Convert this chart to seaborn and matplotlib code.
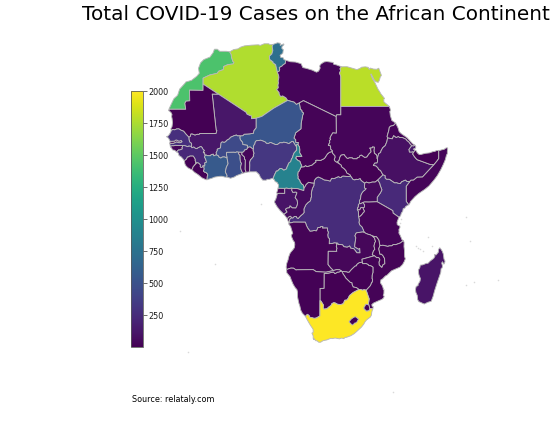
import matplotlib
matplotlib.use("Agg")
import matplotlib.pyplot as plt
from matplotlib.cm import ScalarMappable
from matplotlib.colors import Normalize
import seaborn as sns

# Country outlines in (longitude, latitude)
MOROCCO = [(-8.68,27.4),(-8.69,25.88),(-12.0,25.93),(-11.94,23.37),(-12.87,23.28),(-13.12,22.77),(-12.93,21.33),(-16.85,21.33),(-17.06,21.0),(-17.0,21.42),(-16.2,23.1),(-15.8,23.9),(-14.9,24.7),(-14.4,26.2),(-13.1,27.6),(-12.9,27.9),(-11.5,28.3),(-10.2,29.3),(-9.6,30.0),(-9.8,31.2),(-9.3,32.5),(-8.5,33.3),(-7.0,33.9),(-6.2,35.0),(-5.9,35.8),(-5.2,35.8),(-4.6,35.3),(-3.0,35.3),(-2.17,35.17),(-1.79,34.53),(-1.73,33.92),(-1.39,32.86),(-1.12,32.65),(-1.3,32.26),(-2.6,32.09),(-3.65,31.64),(-3.69,30.9),(-4.86,30.5),(-5.24,30.0),(-7.06,29.58),(-8.67,28.84)]
ALGERIA = [(-8.67,27.66),(-8.67,28.84),(-7.06,29.58),(-5.24,30.0),(-4.86,30.5),(-3.69,30.9),(-3.65,31.64),(-2.6,32.09),(-1.3,32.26),(-1.12,32.65),(-1.39,32.86),(-1.73,33.92),(-1.79,34.53),(-2.17,35.17),(-1.21,35.71),(-0.13,35.89),(0.5,36.3),(1.47,36.61),(3.16,36.78),(4.82,36.87),(5.32,36.72),(6.26,37.11),(7.33,37.12),(7.74,36.89),(8.42,36.95),(8.22,36.43),(8.38,35.48),(8.14,34.66),(7.52,34.1),(7.61,33.34),(8.43,32.75),(8.44,32.51),(9.06,32.1),(9.48,30.31),(9.81,29.42),(9.86,28.96),(9.68,28.14),(9.76,27.69),(9.63,27.14),(9.72,26.51),(9.32,26.09),(9.91,25.37),(9.95,24.94),(10.3,24.38),(10.77,24.56),(11.56,24.1),(12.0,23.47),(8.57,21.57),(5.68,19.6),(4.27,19.16),(3.16,19.06),(3.15,19.69),(2.68,19.86),(2.06,20.14),(1.82,20.61),(-1.55,22.79),(-4.92,24.97),(-8.68,27.4)]
TUNISIA = [(9.48,30.31),(9.06,32.1),(8.44,32.51),(8.43,32.75),(7.61,33.34),(7.52,34.1),(8.14,34.66),(8.38,35.48),(8.22,36.43),(8.42,36.95),(9.51,37.35),(10.21,37.23),(10.18,36.72),(11.03,37.09),(11.1,36.9),(10.6,36.41),(10.59,35.95),(10.94,35.7),(10.81,34.83),(10.15,34.33),(10.34,33.79),(10.86,33.77),(11.11,33.29),(11.49,33.14),(11.43,32.37),(10.94,32.08),(10.64,31.76),(9.95,31.38),(10.06,30.96),(9.97,30.54)]
LIBYA = [(25.0,22.0),(25.0,29.24),(24.7,30.04),(24.96,30.66),(24.8,31.09),(25.16,31.57),(23.93,32.02),(23.24,32.19),(23.13,32.62),(22.9,32.64),(21.54,32.84),(20.85,32.71),(20.08,32.18),(19.82,31.75),(19.95,31.26),(19.57,30.53),(19.07,30.27),(18.02,30.76),(16.61,31.18),(15.71,31.38),(15.29,32.31),(13.92,32.71),(12.66,32.79),(11.49,33.14),(11.43,32.37),(10.94,32.08),(10.64,31.76),(9.95,31.38),(10.06,30.96),(9.97,30.54),(9.48,30.31),(9.81,29.42),(9.86,28.96),(9.68,28.14),(9.76,27.69),(9.63,27.14),(9.72,26.51),(9.32,26.09),(9.91,25.37),(9.95,24.94),(10.3,24.38),(10.77,24.56),(11.56,24.1),(12.0,23.47),(13.58,23.04),(14.14,22.49),(14.85,22.86),(15.86,23.41),(24.0,19.5),(24.0,20.0),(25.0,20.0)]
EGYPT = [(36.87,22.0),(25.0,22.0),(25.0,29.24),(24.7,30.04),(24.96,30.66),(24.8,31.09),(25.16,31.57),(26.5,31.59),(27.46,31.32),(28.45,31.03),(28.91,30.87),(29.68,31.19),(30.09,31.47),(30.98,31.56),(31.69,31.43),(31.96,30.93),(32.19,31.26),(32.99,31.02),(33.77,30.97),(34.27,31.22),(34.92,29.5),(34.64,29.1),(34.43,28.34),(34.15,27.82),(33.58,27.97),(33.14,28.42),(32.42,29.85),(32.32,29.76),(32.73,28.71),(33.35,27.7),(34.1,26.14),(34.47,25.6),(34.8,25.03),(35.69,23.93),(35.49,23.75),(35.53,23.1)]
SUDAN = [(24.57,8.23),(23.81,8.67),(23.46,8.95),(23.39,9.27),(23.56,9.68),(23.55,10.09),(22.98,10.71),(22.86,11.14),(22.88,11.38),(22.51,11.68),(22.5,12.26),(22.29,12.65),(21.94,12.59),(22.04,12.96),(22.3,13.37),(22.18,13.79),(22.51,14.09),(22.3,14.33),(22.57,14.94),(23.02,15.68),(23.89,15.61),(23.84,19.58),(24.0,20.0),(25.0,20.0),(25.0,22.0),(36.87,22.0),(37.19,21.02),(36.97,20.84),(37.11,19.81),(37.48,18.61),(37.86,18.37),(38.41,17.99),(37.9,17.43),(37.17,17.26),(36.85,16.96),(36.75,16.29),(36.32,14.82),(36.43,14.42),(36.27,13.56),(35.86,12.58),(35.26,12.08),(34.83,11.32),(34.73,10.91),(34.26,10.63),(33.96,9.58),(33.96,9.46),(33.82,9.48),(33.84,9.98),(33.72,10.33),(33.21,10.72),(33.09,11.44),(33.21,12.18),(32.74,12.25),(32.67,12.02),(32.07,11.97),(32.31,11.68),(32.4,11.08),(31.85,10.53),(31.35,9.81),(30.84,9.71),(29.99,10.29),(29.62,10.08),(29.52,9.79),(29.0,9.6),(28.97,9.4),(27.97,9.4),(27.83,9.6),(27.11,9.64),(26.75,9.47),(26.48,9.55),(25.96,10.14),(25.79,10.41),(25.07,10.27),(24.79,9.81),(24.54,8.92),(24.19,8.73)]
SOUTH_SUDAN = [(30.83,3.51),(29.95,4.17),(29.72,4.6),(29.16,4.39),(28.7,4.46),(28.43,4.29),(27.98,4.41),(27.37,5.23),(27.21,5.55),(26.47,5.95),(26.21,6.55),(25.8,6.98),(25.12,7.5),(25.11,7.83),(24.57,8.23),(24.19,8.73),(24.54,8.92),(24.79,9.81),(25.07,10.27),(25.79,10.41),(25.96,10.14),(26.48,9.55),(26.75,9.47),(27.11,9.64),(27.83,9.6),(27.97,9.4),(28.97,9.4),(29.0,9.6),(29.52,9.79),(29.62,10.08),(29.99,10.29),(30.84,9.71),(31.35,9.81),(31.85,10.53),(32.4,11.08),(32.31,11.68),(32.07,11.97),(32.67,12.02),(32.74,12.25),(33.21,12.18),(33.09,11.44),(33.21,10.72),(33.72,10.33),(33.84,9.98),(33.82,9.48),(33.96,9.46),(33.96,8.68),(33.83,8.38),(33.29,8.35),(32.95,7.78),(33.57,7.71),(34.07,7.23),(34.25,6.83),(34.71,6.59),(35.3,5.51),(34.62,4.85),(34.01,4.25),(33.39,3.79),(32.69,3.79),(31.88,3.56),(31.25,3.78)]
ERITREA = [(36.43,14.42),(36.32,14.82),(36.75,16.29),(36.85,16.96),(37.17,17.26),(37.9,17.43),(38.41,17.99),(38.99,16.84),(39.27,15.92),(39.81,15.44),(41.18,14.49),(42.59,13.0),(43.08,12.7),(42.78,12.46),(42.35,12.54),(42.01,12.87),(41.6,13.45),(41.16,13.77),(40.9,14.12),(40.03,14.52),(39.34,14.53),(39.1,14.74),(38.51,14.51),(37.91,14.96),(37.59,14.21)]
ETHIOPIA = [(47.79,8.0),(44.96,5.0),(43.66,4.96),(42.77,4.25),(42.13,4.23),(41.86,3.92),(41.17,3.92),(40.77,4.26),(39.86,3.84),(39.56,3.42),(38.92,3.5),(38.67,3.62),(38.44,3.59),(38.12,3.6),(36.86,4.45),(36.16,4.45),(35.82,4.78),(35.82,5.34),(35.3,5.51),(34.71,6.59),(34.25,6.83),(34.07,7.23),(33.57,7.71),(32.95,7.78),(33.29,8.35),(33.83,8.38),(33.97,8.68),(33.96,9.58),(34.26,10.63),(34.73,10.91),(34.83,11.32),(35.26,12.08),(35.86,12.58),(36.27,13.56),(36.43,14.42),(37.59,14.21),(37.91,14.96),(38.51,14.51),(39.1,14.74),(39.34,14.53),(40.03,14.52),(40.9,14.12),(41.16,13.77),(41.6,13.45),(42.01,12.87),(42.35,12.54),(42.0,12.1),(41.66,11.63),(41.74,11.36),(41.76,11.05),(42.31,11.03),(42.55,11.11),(42.78,10.93),(42.56,10.57),(42.93,10.02),(43.3,9.54),(43.68,9.18),(46.95,8.0)]
DJIBOUTI = [(43.08,12.7),(43.32,12.39),(43.29,11.97),(42.72,11.74),(43.15,11.46),(42.78,10.93),(42.55,11.11),(42.31,11.03),(41.76,11.05),(41.74,11.36),(41.66,11.63),(42.0,12.1),(42.35,12.54),(42.78,12.46)]
SOMALILAND = [(48.95,11.41),(48.94,10.98),(48.94,9.97),(48.94,9.45),(48.49,8.84),(47.79,8.0),(46.95,8.0),(43.68,9.18),(43.3,9.54),(42.93,10.02),(42.56,10.57),(42.78,10.93),(43.15,11.46),(43.47,11.28),(43.67,10.86),(44.12,10.45),(44.61,10.44),(45.56,10.7),(46.65,10.82),(47.53,11.13),(48.02,11.19),(48.38,11.38)]
SOMALIA = [(41.59,-1.68),(40.99,-0.86),(40.98,2.78),(41.86,3.92),(42.13,4.23),(42.77,4.25),(43.66,4.96),(44.96,5.0),(47.79,8.0),(48.49,8.84),(48.94,9.45),(48.94,9.97),(48.94,10.98),(48.95,11.41),(49.27,11.43),(49.73,11.58),(50.26,11.68),(50.73,12.02),(51.11,12.02),(51.13,11.75),(51.04,11.17),(51.05,10.64),(50.83,10.28),(50.55,9.2),(50.07,8.08),(49.45,6.8),(48.59,5.34),(47.74,4.22),(46.56,2.86),(45.56,2.05),(44.07,1.05),(43.14,0.29),(42.04,-0.92),(41.81,-1.45)]
KENYA = [(40.99,-0.86),(41.59,-1.68),(40.88,-2.08),(40.64,-2.5),(40.26,-2.57),(40.12,-3.28),(39.8,-3.68),(39.6,-4.35),(39.2,-4.68),(37.77,-3.68),(37.7,-3.1),(34.07,-1.06),(33.9,-0.95),(33.89,0.11),(34.18,0.52),(34.67,1.18),(35.04,1.91),(34.6,3.05),(34.48,3.56),(34.0,4.25),(34.62,4.85),(35.3,5.51),(35.82,5.34),(35.82,4.78),(36.16,4.45),(36.86,4.45),(38.12,3.6),(38.44,3.59),(38.67,3.62),(38.92,3.5),(39.56,3.42),(39.86,3.84),(40.77,4.26),(41.17,3.92),(41.86,3.92),(40.98,2.78)]
UGANDA = [(33.9,-0.95),(31.87,-1.03),(30.77,-1.01),(30.42,-1.13),(29.82,-1.44),(29.58,-1.34),(29.59,-0.59),(29.82,-0.21),(29.88,0.6),(30.09,1.06),(30.47,1.58),(30.85,1.85),(31.17,2.2),(30.77,2.34),(30.83,3.51),(31.25,3.78),(31.88,3.56),(32.69,3.79),(33.39,3.79),(34.0,4.25),(34.48,3.56),(34.6,3.05),(35.04,1.91),(34.67,1.18),(34.18,0.52),(33.89,0.11)]
RWANDA = [(30.42,-1.13),(30.82,-1.7),(30.76,-2.29),(30.47,-2.41),(29.94,-2.35),(29.63,-2.92),(29.02,-2.84),(29.12,-2.29),(29.25,-2.22),(29.29,-1.62),(29.58,-1.34),(29.82,-1.44)]
BURUNDI = [(30.47,-2.41),(30.53,-2.81),(30.74,-3.03),(30.75,-3.36),(30.51,-3.57),(30.12,-4.09),(29.75,-4.45),(29.34,-4.5),(29.28,-3.29),(29.02,-2.84),(29.63,-2.92),(29.94,-2.35)]
TANZANIA = [(33.9,-0.95),(34.07,-1.06),(37.7,-3.1),(37.77,-3.68),(39.2,-4.68),(38.74,-5.91),(38.8,-6.48),(39.44,-6.84),(39.47,-7.1),(39.19,-7.7),(39.25,-8.01),(39.19,-8.49),(39.54,-9.11),(39.95,-10.1),(40.32,-10.32),(39.52,-10.9),(38.43,-11.29),(37.83,-11.27),(37.47,-11.57),(36.78,-11.59),(36.51,-11.72),(35.31,-11.44),(34.56,-11.52),(34.28,-10.16),(33.94,-9.69),(33.74,-9.42),(32.76,-9.23),(32.19,-8.93),(31.56,-8.76),(31.16,-8.59),(30.74,-8.34),(30.2,-7.08),(29.62,-6.52),(29.42,-5.94),(29.52,-5.42),(29.34,-4.5),(29.75,-4.45),(30.12,-4.09),(30.51,-3.57),(30.75,-3.36),(30.74,-3.03),(30.53,-2.81),(30.47,-2.41),(30.76,-2.29),(30.82,-1.7),(30.42,-1.13),(30.77,-1.01),(31.87,-1.03)]
DR_CONGO = [(30.83,3.51),(30.77,2.34),(31.17,2.2),(30.85,1.85),(30.47,1.58),(30.09,1.06),(29.88,0.6),(29.82,-0.21),(29.59,-0.59),(29.58,-1.34),(29.29,-1.62),(29.25,-2.22),(29.12,-2.29),(29.02,-2.84),(29.28,-3.29),(29.34,-4.5),(29.52,-5.42),(29.42,-5.94),(29.62,-6.52),(30.2,-7.08),(30.74,-8.34),(30.35,-8.24),(29.0,-8.41),(28.73,-8.53),(28.45,-9.16),(28.67,-9.61),(28.5,-10.79),(28.37,-11.79),(28.64,-11.97),(29.34,-12.36),(29.62,-12.18),(29.7,-13.26),(28.93,-13.25),(28.52,-12.7),(28.16,-12.27),(27.39,-12.13),(27.16,-11.61),(26.55,-11.92),(25.75,-11.78),(25.42,-11.33),(24.78,-11.24),(24.31,-11.26),(24.26,-10.95),(23.91,-10.93),(23.46,-10.87),(22.84,-11.02),(22.4,-10.99),(22.16,-11.08),(22.21,-9.89),(21.88,-9.52),(21.8,-8.91),(21.95,-8.31),(21.75,-7.92),(21.73,-7.29),(20.51,-7.3),(20.6,-6.94),(20.09,-6.94),(20.04,-7.12),(19.42,-7.16),(19.17,-7.74),(19.02,-7.99),(18.46,-7.85),(18.13,-8.0),(17.47,-8.07),(16.86,-7.22),(16.57,-6.62),(16.33,-5.88),(13.38,-5.86),(13.03,-5.98),(12.44,-6.0),(12.18,-5.79),(12.44,-5.68),(12.47,-5.25),(12.63,-4.99),(13.0,-4.78),(13.26,-4.88),(13.6,-4.5),(14.14,-4.51),(14.21,-4.79),(14.58,-4.97),(15.17,-4.34),(15.75,-3.86),(16.01,-3.54),(15.97,-2.71),(16.41,-1.74),(16.87,-1.23),(17.52,-0.74),(17.64,-0.42),(17.66,-0.06),(17.83,0.29),(17.77,0.86),(17.9,1.74),(18.09,2.37),(18.39,2.9),(18.45,3.5),(18.54,4.2),(18.93,4.71),(19.47,5.03),(20.29,4.69),(20.93,4.32),(21.66,4.22),(22.41,4.03),(22.7,4.63),(22.84,4.71),(23.3,4.61),(24.41,5.11),(24.81,4.9),(25.13,4.93),(25.28,5.17),(25.65,5.26),(26.4,5.15),(27.04,5.13),(27.37,5.23),(27.98,4.41),(28.43,4.29),(28.7,4.46),(29.16,4.39),(29.72,4.6),(29.95,4.17)]
CENTRAL_AFRICAN_REP = [(27.37,5.23),(27.04,5.13),(26.4,5.15),(25.65,5.26),(25.28,5.17),(25.13,4.93),(24.81,4.9),(24.41,5.11),(23.3,4.61),(22.84,4.71),(22.7,4.63),(22.41,4.03),(21.66,4.22),(20.93,4.32),(20.29,4.69),(19.47,5.03),(18.93,4.71),(18.54,4.2),(18.45,3.5),(17.81,3.56),(17.13,3.73),(16.54,3.2),(16.01,2.27),(15.91,2.56),(15.86,3.01),(15.41,3.34),(15.04,3.85),(14.95,4.21),(14.48,4.73),(14.56,5.03),(14.46,5.45),(14.54,6.23),(14.78,6.41),(15.28,7.42),(16.11,7.5),(16.29,7.75),(16.46,7.73),(16.71,7.51),(17.96,7.89),(18.39,8.28),(18.91,8.63),(18.81,8.98),(19.09,9.07),(20.06,9.01),(21.0,9.48),(21.72,10.57),(22.23,10.97),(22.86,11.14),(22.98,10.71),(23.55,10.09),(23.56,9.68),(23.39,9.27),(23.46,8.95),(23.81,8.67),(24.57,8.23),(25.11,7.83),(25.12,7.5),(25.8,6.98),(26.21,6.55),(26.47,5.95),(27.21,5.55)]
CHAD = [(14.85,22.86),(15.86,23.41),(23.84,19.58),(23.89,15.61),(23.02,15.68),(22.57,14.94),(22.3,14.33),(22.51,14.09),(22.18,13.79),(22.3,13.37),(22.04,12.96),(21.94,12.59),(22.29,12.65),(22.5,12.26),(22.51,11.68),(22.88,11.38),(22.86,11.14),(22.23,10.97),(21.72,10.57),(21.0,9.48),(20.06,9.01),(19.09,9.07),(18.81,8.98),(18.91,8.63),(18.39,8.28),(17.96,7.89),(16.71,7.51),(16.46,7.73),(16.29,7.75),(16.11,7.5),(15.28,7.42),(15.44,7.69),(15.12,8.38),(14.98,8.8),(14.54,8.97),(13.95,9.55),(14.17,10.02),(14.63,9.92),(14.91,9.99),(15.47,9.98),(14.92,10.89),(14.96,11.56),(14.89,12.22),(14.5,12.86),(14.6,13.33),(13.95,13.35),(13.96,13.99),(13.54,14.37),(13.97,15.68),(15.25,16.63),(15.3,17.93),(15.69,19.96),(15.9,20.39),(15.49,20.73),(15.47,21.05),(15.1,21.31)]
NIGER = [(2.15,11.94),(2.18,12.63),(1.02,12.85),(0.99,13.34),(0.43,13.99),(0.3,14.44),(0.37,14.93),(1.02,14.97),(1.39,15.32),(2.75,15.41),(3.64,15.57),(3.72,16.18),(4.27,16.85),(4.27,19.16),(5.68,19.6),(8.57,21.57),(12.0,23.47),(13.58,23.04),(14.14,22.49),(14.85,22.86),(15.1,21.31),(15.47,21.05),(15.49,20.73),(15.9,20.39),(15.69,19.96),(15.3,17.93),(15.25,16.63),(13.97,15.68),(13.54,14.37),(13.96,13.99),(13.95,13.35),(14.6,13.33),(14.5,12.86),(14.21,12.8),(14.18,12.48),(14.0,12.46),(13.32,13.56),(13.08,13.6),(12.3,13.04),(11.53,13.33),(10.99,13.39),(10.7,13.25),(10.11,13.28),(9.52,12.85),(9.01,12.83),(7.8,13.34),(7.33,13.1),(6.82,13.12),(6.45,13.49),(5.44,13.87),(4.37,13.75),(4.11,13.53),(3.97,12.96),(3.68,12.55),(3.61,11.66),(2.85,12.24),(2.49,12.23)]
MALI = [(-12.17,14.62),(-11.83,14.8),(-11.67,15.39),(-11.35,15.41),(-10.65,15.13),(-10.09,15.33),(-9.7,15.26),(-9.55,15.49),(-5.54,15.5),(-5.32,16.2),(-5.49,16.33),(-5.97,20.64),(-6.45,25.0),(-4.92,24.97),(-1.55,22.79),(1.82,20.61),(2.06,20.14),(2.68,19.86),(3.15,19.69),(3.16,19.06),(4.27,19.16),(4.27,16.85),(3.72,16.18),(3.64,15.57),(2.75,15.41),(1.39,15.32),(1.02,14.97),(0.37,14.93),(-0.27,14.92),(-0.52,15.12),(-1.07,14.97),(-2.0,14.56),(-2.19,14.25),(-2.97,13.8),(-3.1,13.54),(-3.52,13.34),(-4.01,13.47),(-4.28,13.23),(-4.43,12.01),(-5.22,11.71),(-5.2,11.38),(-5.47,10.95),(-5.4,10.37),(-5.82,10.22),(-6.05,10.1),(-6.21,10.52),(-6.49,10.41),(-6.67,10.43),(-6.85,10.14),(-7.62,10.15),(-7.9,10.3),(-8.03,10.21),(-8.34,10.49),(-8.28,10.79),(-8.41,10.91),(-8.62,10.81),(-8.58,11.14),(-8.38,11.39),(-8.79,11.81),(-8.91,12.09),(-9.13,12.31),(-9.33,12.33),(-9.57,12.19),(-9.89,12.06),(-10.17,11.84),(-10.59,11.92),(-10.87,12.18),(-11.04,12.21),(-11.3,12.08),(-11.46,12.08),(-11.51,12.44),(-11.47,12.75),(-11.55,13.14),(-11.93,13.42),(-12.12,13.99)]
MAURITANIA = [(-12.17,14.62),(-12.83,15.3),(-13.44,16.04),(-14.1,16.3),(-14.58,16.6),(-15.14,16.59),(-15.62,16.37),(-16.12,16.46),(-16.46,16.14),(-16.55,16.67),(-16.27,17.17),(-16.15,18.11),(-16.26,19.1),(-16.38,19.59),(-16.28,20.09),(-16.54,20.57),(-17.06,21.0),(-16.85,21.33),(-12.93,21.33),(-13.12,22.77),(-12.87,23.28),(-11.94,23.37),(-12.0,25.93),(-8.69,25.88),(-8.68,27.4),(-4.92,24.97),(-6.45,25.0),(-5.97,20.64),(-5.49,16.33),(-5.32,16.2),(-5.54,15.5),(-9.55,15.49),(-9.7,15.26),(-10.09,15.33),(-10.65,15.13),(-11.35,15.41),(-11.67,15.39),(-11.83,14.8)]
SENEGAL = [(-16.71,13.59),(-17.13,14.37),(-17.63,14.73),(-17.19,14.92),(-16.7,15.62),(-16.46,16.14),(-16.12,16.46),(-15.62,16.37),(-15.14,16.59),(-14.58,16.6),(-14.1,16.3),(-13.44,16.04),(-12.83,15.3),(-12.17,14.62),(-12.12,13.99),(-11.93,13.42),(-11.55,13.14),(-11.47,12.75),(-11.51,12.44),(-11.66,12.39),(-12.2,12.47),(-12.28,12.35),(-12.5,12.33),(-13.22,12.58),(-13.7,12.59),(-15.55,12.63),(-15.82,12.52),(-16.15,12.55),(-16.68,12.38),(-16.84,13.15),(-15.93,13.13),(-15.69,13.27),(-15.51,13.28),(-15.14,13.51),(-14.71,13.3),(-14.28,13.28),(-13.84,13.51),(-14.05,13.79),(-14.38,13.63),(-14.69,13.63),(-15.08,13.88),(-15.4,13.86),(-15.62,13.62)]
GAMBIA = [(-16.84,13.15),(-16.71,13.59),(-15.62,13.62),(-15.4,13.86),(-15.08,13.88),(-14.69,13.63),(-14.38,13.63),(-14.05,13.79),(-13.84,13.51),(-14.28,13.28),(-14.71,13.3),(-15.14,13.51),(-15.51,13.28),(-15.69,13.27),(-15.93,13.13)]
GUINEA_BISSAU = [(-16.68,12.38),(-16.15,12.55),(-15.82,12.52),(-15.55,12.63),(-13.7,12.59),(-13.72,12.25),(-13.83,12.14),(-13.74,11.81),(-13.9,11.68),(-14.12,11.68),(-14.38,11.51),(-14.69,11.53),(-15.13,11.04),(-15.66,11.46),(-16.09,11.52),(-16.31,11.81),(-16.31,11.96),(-16.61,12.17)]
GUINEA = [(-13.7,12.59),(-13.22,12.58),(-12.5,12.33),(-12.28,12.35),(-12.2,12.47),(-11.66,12.39),(-11.51,12.44),(-11.46,12.08),(-11.3,12.08),(-11.04,12.21),(-10.87,12.18),(-10.59,11.92),(-10.17,11.84),(-9.89,12.06),(-9.57,12.19),(-9.33,12.33),(-9.13,12.31),(-8.91,12.09),(-8.79,11.81),(-8.38,11.39),(-8.58,11.14),(-8.62,10.81),(-8.41,10.91),(-8.28,10.79),(-8.34,10.49),(-8.03,10.21),(-8.23,10.13),(-8.31,9.79),(-8.08,9.38),(-7.83,8.58),(-8.2,8.46),(-8.3,8.32),(-8.22,8.12),(-8.28,7.69),(-8.44,7.69),(-8.72,7.71),(-8.93,7.31),(-9.21,7.31),(-9.4,7.53),(-9.34,7.93),(-9.76,8.34),(-10.02,8.43),(-10.51,8.35),(-10.49,8.72),(-10.65,8.98),(-10.62,9.27),(-10.84,9.69),(-11.12,10.05),(-11.92,10.05),(-12.15,9.86),(-12.43,9.84),(-12.6,9.62),(-12.71,9.34),(-13.25,8.9),(-13.69,9.49),(-14.07,9.89),(-14.33,10.02),(-14.58,10.21),(-14.69,10.66),(-14.84,10.88),(-15.13,11.04),(-14.69,11.53),(-14.38,11.51),(-14.12,11.68),(-13.9,11.68),(-13.74,11.81),(-13.83,12.14),(-13.72,12.25)]
SIERRA_LEONE = [(-13.25,8.9),(-12.71,9.34),(-12.6,9.62),(-12.43,9.84),(-12.15,9.86),(-11.92,10.05),(-11.12,10.05),(-10.84,9.69),(-10.62,9.27),(-10.65,8.98),(-10.49,8.72),(-10.51,8.35),(-10.23,8.41),(-10.7,7.94),(-11.15,7.4),(-11.2,7.11),(-11.44,6.79),(-11.71,6.86),(-12.43,7.26),(-12.95,7.8),(-13.12,8.16)]
LIBERIA = [(-8.44,7.69),(-8.49,7.4),(-8.39,6.91),(-8.6,6.47),(-8.31,6.19),(-7.99,6.13),(-7.57,5.71),(-7.54,5.31),(-7.64,5.19),(-7.71,4.36),(-7.97,4.36),(-9.0,4.83),(-9.91,5.59),(-10.77,6.14),(-11.44,6.79),(-11.2,7.11),(-11.15,7.4),(-10.7,7.94),(-10.23,8.41),(-10.02,8.43),(-9.76,8.34),(-9.34,7.93),(-9.4,7.53),(-9.21,7.31),(-8.93,7.31),(-8.72,7.71)]
IVORY_COAST = [(-7.71,4.36),(-7.64,5.19),(-7.54,5.31),(-7.57,5.71),(-7.99,6.13),(-8.31,6.19),(-8.6,6.47),(-8.39,6.91),(-8.49,7.4),(-8.44,7.69),(-8.28,7.69),(-8.22,8.12),(-8.3,8.32),(-8.2,8.46),(-7.83,8.58),(-8.08,9.38),(-8.31,9.79),(-8.23,10.13),(-8.03,10.21),(-7.9,10.3),(-7.62,10.15),(-6.85,10.14),(-6.67,10.43),(-6.49,10.41),(-6.21,10.52),(-6.05,10.1),(-5.82,10.22),(-5.4,10.37),(-4.95,10.15),(-4.78,9.82),(-4.33,9.61),(-3.98,9.86),(-3.51,9.9),(-2.83,9.64),(-2.56,8.22),(-2.98,7.38),(-3.24,6.25),(-2.81,5.39),(-2.86,5.0),(-3.31,4.98),(-4.01,5.18),(-4.65,5.17),(-5.83,4.99),(-6.53,4.71)]
GHANA = [(1.06,5.93),(-0.51,5.34),(-1.06,5.0),(-1.96,4.71),(-2.86,5.0),(-2.81,5.39),(-3.24,6.25),(-2.98,7.38),(-2.56,8.22),(-2.83,9.64),(-2.96,10.4),(-2.94,10.96),(-1.2,11.01),(-0.76,10.94),(-0.44,11.1),(0.02,11.02),(-0.05,10.71),(0.37,10.19),(0.37,9.47),(0.46,8.68),(0.71,8.31),(0.49,7.41),(0.57,6.91),(0.84,6.28)]
TOGO = [(0.9,11.0),(0.77,10.47),(1.08,10.18),(1.43,9.83),(1.46,9.33),(1.66,9.13),(1.62,6.83),(1.86,6.14),(1.06,5.93),(0.84,6.28),(0.57,6.91),(0.49,7.41),(0.71,8.31),(0.46,8.68),(0.37,9.47),(0.37,10.19),(-0.05,10.71),(0.02,11.02)]
BENIN = [(2.69,6.26),(1.87,6.14),(1.62,6.83),(1.66,9.13),(1.46,9.33),(1.43,9.83),(1.08,10.18),(0.77,10.47),(0.9,11.0),(1.24,11.11),(1.45,11.55),(1.94,11.64),(2.15,11.94),(2.49,12.23),(2.85,12.24),(3.61,11.66),(3.57,11.33),(3.8,10.73),(3.6,10.33),(3.71,10.06),(3.22,9.44),(2.91,9.14),(2.72,8.51),(2.75,7.87)]
BURKINA_FASO = [(-2.83,9.64),(-3.51,9.9),(-3.98,9.86),(-4.33,9.61),(-4.78,9.82),(-4.95,10.15),(-5.4,10.37),(-5.47,10.95),(-5.2,11.38),(-5.22,11.71),(-4.43,12.01),(-4.28,13.23),(-4.01,13.47),(-3.52,13.34),(-3.1,13.54),(-2.97,13.8),(-2.19,14.25),(-2.0,14.56),(-1.07,14.97),(-0.52,15.12),(-0.27,14.92),(0.37,14.93),(0.3,14.44),(0.43,13.99),(0.99,13.34),(1.02,12.85),(2.18,12.63),(2.15,11.94),(1.94,11.64),(1.45,11.55),(1.24,11.11),(0.9,11.0),(0.02,11.02),(-0.44,11.1),(-0.76,10.94),(-1.2,11.01),(-2.94,10.96),(-2.96,10.4)]
NIGERIA = [(2.69,6.26),(2.75,7.87),(2.72,8.51),(2.91,9.14),(3.22,9.44),(3.71,10.06),(3.6,10.33),(3.8,10.73),(3.57,11.33),(3.61,11.66),(3.68,12.55),(3.97,12.96),(4.11,13.53),(4.37,13.75),(5.44,13.87),(6.45,13.49),(6.82,13.12),(7.33,13.1),(7.8,13.34),(9.01,12.83),(9.52,12.85),(10.11,13.28),(10.7,13.25),(10.99,13.39),(11.53,13.33),(12.3,13.04),(13.08,13.6),(13.32,13.56),(14.0,12.46),(14.18,12.48),(14.21,11.5),(13.57,10.8),(13.31,10.16),(13.17,9.64),(12.96,9.42),(12.75,8.72),(12.22,8.31),(12.06,7.8),(11.84,7.4),(11.75,6.98),(11.06,6.64),(10.5,7.06),(10.12,7.04),(9.52,6.45),(9.23,6.44),(8.76,5.48),(8.5,4.77),(7.46,4.41),(7.08,4.46),(6.7,4.24),(5.9,4.26),(5.36,4.89),(5.03,5.61),(4.33,6.27),(3.57,6.26)]
CAMEROON = [(14.5,12.86),(14.89,12.22),(14.96,11.56),(14.92,10.89),(15.47,9.98),(14.91,9.99),(14.63,9.92),(14.17,10.02),(13.95,9.55),(14.54,8.97),(14.98,8.8),(15.12,8.38),(15.44,7.69),(15.28,7.42),(14.78,6.41),(14.54,6.23),(14.46,5.45),(14.56,5.03),(14.48,4.73),(14.95,4.21),(15.04,3.85),(15.41,3.34),(15.86,3.01),(15.91,2.56),(16.01,2.27),(15.94,1.73),(15.15,1.96),(14.34,2.23),(13.08,2.27),(12.95,2.32),(12.36,2.19),(11.75,2.33),(11.28,2.26),(9.65,2.28),(9.8,3.07),(9.4,3.73),(8.95,3.9),(8.74,4.35),(8.49,4.5),(8.5,4.77),(8.76,5.48),(9.23,6.44),(9.52,6.45),(10.12,7.04),(10.5,7.06),(11.06,6.64),(11.75,6.98),(11.84,7.4),(12.06,7.8),(12.22,8.31),(12.75,8.72),(12.96,9.42),(13.17,9.64),(13.31,10.16),(13.57,10.8),(14.21,11.5),(14.18,12.48),(14.21,12.8)]
EQUATORIAL_GUINEA = [(9.65,2.28),(11.28,2.26),(11.29,1.06),(9.83,1.07),(9.49,1.01),(9.31,1.16),(9.59,2.05)]
GABON = [(11.28,2.26),(11.75,2.33),(12.36,2.19),(12.95,2.32),(13.08,2.27),(13.0,1.83),(13.28,1.31),(14.03,1.4),(14.28,1.2),(13.84,0.04),(14.32,-0.56),(14.43,-1.33),(14.3,-1.9),(13.99,-2.47),(13.11,-2.43),(12.58,-1.95),(12.48,-2.39),(11.82,-2.51),(11.48,-2.77),(11.86,-3.43),(11.09,-3.98),(10.07,-2.97),(9.41,-2.14),(8.8,-1.11),(8.83,-0.78),(9.05,-0.46),(9.29,0.27),(9.49,1.01),(9.83,1.07),(11.29,1.06)]
CONGO = [(12.99,-4.78),(12.62,-4.44),(12.32,-4.61),(11.91,-5.04),(11.09,-3.98),(11.86,-3.43),(11.48,-2.77),(11.82,-2.51),(12.48,-2.39),(12.58,-1.95),(13.11,-2.43),(13.99,-2.47),(14.3,-1.9),(14.43,-1.33),(14.32,-0.56),(13.84,0.04),(14.28,1.2),(14.03,1.4),(13.28,1.31),(13.0,1.83),(13.08,2.27),(14.34,2.23),(15.15,1.96),(15.94,1.73),(16.01,2.27),(16.54,3.2),(17.13,3.73),(17.81,3.56),(18.45,3.5),(18.39,2.9),(18.09,2.37),(17.9,1.74),(17.77,0.86),(17.83,0.29),(17.66,-0.06),(17.64,-0.42),(17.52,-0.74),(16.87,-1.23),(16.41,-1.74),(15.97,-2.71),(16.01,-3.54),(15.75,-3.86),(15.17,-4.34),(14.58,-4.97),(14.21,-4.79),(14.14,-4.51),(13.6,-4.5),(13.26,-4.88)]
ANGOLA = [(16.33,-5.88),(16.57,-6.62),(16.86,-7.22),(17.47,-8.07),(18.13,-8.0),(18.46,-7.85),(19.02,-7.99),(19.17,-7.74),(19.42,-7.16),(20.04,-7.12),(20.09,-6.94),(20.6,-6.94),(20.51,-7.3),(21.73,-7.29),(21.75,-7.92),(21.95,-8.31),(21.8,-8.91),(21.88,-9.52),(22.21,-9.89),(22.16,-11.08),(22.4,-10.99),(22.84,-11.02),(23.46,-10.87),(23.91,-10.93),(24.02,-11.24),(23.9,-11.72),(24.08,-12.19),(23.93,-12.57),(24.02,-12.91),(21.93,-12.9),(21.89,-16.08),(22.56,-16.9),(23.21,-17.52),(21.38,-17.93),(18.96,-17.79),(18.26,-17.31),(14.21,-17.35),(14.06,-17.42),(13.46,-16.97),(12.81,-16.94),(12.22,-17.11),(11.73,-17.3),(11.64,-16.67),(11.78,-15.79),(12.12,-14.88),(12.18,-14.45),(12.5,-13.55),(12.74,-13.14),(13.31,-12.48),(13.63,-12.04),(13.74,-11.3),(13.69,-10.73),(13.39,-10.37),(13.12,-9.77),(12.88,-9.17),(12.93,-8.96),(13.24,-8.56),(12.93,-7.6),(12.73,-6.93),(12.23,-6.29),(12.32,-6.1),(13.03,-5.98),(13.38,-5.86)]
CABINDA = [(12.44,-5.68),(12.18,-5.79),(11.91,-5.04),(12.32,-4.61),(12.62,-4.44),(12.99,-4.78),(12.63,-4.99),(12.47,-5.25)]
ZAMBIA = [(30.74,-8.34),(31.16,-8.59),(31.56,-8.76),(32.19,-8.93),(32.76,-9.23),(33.23,-9.68),(33.49,-10.53),(33.32,-10.8),(33.11,-11.61),(33.31,-12.44),(32.99,-12.78),(32.69,-13.71),(33.21,-13.97),(30.18,-14.8),(30.27,-15.51),(29.52,-15.64),(28.95,-16.04),(28.83,-16.39),(28.47,-16.47),(27.6,-17.29),(27.04,-17.94),(26.71,-17.96),(26.38,-17.85),(25.26,-17.74),(25.08,-17.66),(25.08,-17.58),(24.68,-17.35),(24.03,-17.3),(23.21,-17.52),(22.56,-16.9),(21.89,-16.08),(21.93,-12.9),(24.02,-12.91),(23.93,-12.57),(24.08,-12.19),(23.9,-11.72),(24.02,-11.24),(23.91,-10.93),(24.26,-10.95),(24.31,-11.26),(24.78,-11.24),(25.42,-11.33),(25.75,-11.78),(26.55,-11.92),(27.16,-11.61),(27.39,-12.13),(28.16,-12.27),(28.52,-12.7),(28.93,-13.25),(29.7,-13.26),(29.62,-12.18),(29.34,-12.36),(28.64,-11.97),(28.37,-11.79),(28.5,-10.79),(28.67,-9.61),(28.45,-9.16),(28.73,-8.53),(29.0,-8.41),(30.35,-8.24)]
MALAWI = [(32.76,-9.23),(33.74,-9.42),(33.94,-9.69),(34.28,-10.16),(34.56,-11.52),(34.28,-12.28),(34.56,-13.58),(34.91,-13.57),(35.27,-13.89),(35.69,-14.61),(35.77,-15.9),(35.34,-16.11),(35.03,-16.8),(34.38,-16.18),(34.31,-15.48),(34.52,-15.01),(34.46,-14.61),(34.06,-14.36),(33.79,-14.45),(33.21,-13.97),(32.69,-13.71),(32.99,-12.78),(33.31,-12.44),(33.11,-11.61),(33.32,-10.8),(33.49,-10.53),(33.23,-9.68)]
MOZAMBIQUE = [(34.56,-11.52),(35.31,-11.44),(36.51,-11.72),(36.78,-11.59),(37.47,-11.57),(37.83,-11.27),(38.43,-11.29),(39.52,-10.9),(40.32,-10.32),(40.48,-10.77),(40.44,-11.76),(40.56,-12.64),(40.6,-14.2),(40.78,-14.69),(40.48,-15.41),(40.09,-16.1),(39.45,-16.72),(38.54,-17.1),(37.41,-17.59),(36.28,-18.66),(35.9,-18.84),(35.2,-19.55),(34.79,-19.78),(34.7,-20.5),(35.18,-21.25),(35.37,-21.84),(35.39,-22.14),(35.56,-22.09),(35.53,-23.07),(35.37,-23.53),(35.61,-23.71),(35.46,-24.12),(35.04,-24.48),(34.22,-24.82),(33.01,-25.36),(32.57,-25.73),(32.66,-26.15),(32.92,-26.22),(32.83,-26.74),(32.07,-26.73),(31.99,-26.29),(31.84,-25.84),(31.75,-25.48),(31.93,-24.37),(31.67,-23.66),(31.19,-22.25),(32.24,-21.12),(32.51,-20.4),(32.66,-20.3),(32.77,-19.72),(32.61,-19.42),(32.65,-18.67),(32.85,-17.98),(32.85,-16.71),(32.33,-16.39),(31.85,-16.32),(31.64,-16.07),(31.17,-15.86),(30.34,-15.88),(30.27,-15.51),(30.18,-14.8),(33.21,-13.97),(33.79,-14.45),(34.06,-14.36),(34.46,-14.61),(34.52,-15.01),(34.31,-15.48),(34.38,-16.18),(35.03,-16.8),(35.34,-16.11),(35.77,-15.9),(35.69,-14.61),(35.27,-13.89),(34.91,-13.57),(34.56,-13.58),(34.28,-12.28)]
ZIMBABWE = [(31.19,-22.25),(30.66,-22.15),(30.32,-22.27),(29.84,-22.1),(29.43,-22.09),(28.79,-21.64),(28.02,-21.49),(27.73,-20.85),(27.72,-20.5),(27.3,-20.39),(26.16,-19.29),(25.85,-18.71),(25.65,-18.54),(25.26,-17.74),(26.38,-17.85),(26.71,-17.96),(27.04,-17.94),(27.6,-17.29),(28.47,-16.47),(28.83,-16.39),(28.95,-16.04),(29.52,-15.64),(30.27,-15.51),(30.34,-15.88),(31.17,-15.86),(31.64,-16.07),(31.85,-16.32),(32.33,-16.39),(32.85,-16.71),(32.85,-17.98),(32.65,-18.67),(32.61,-19.42),(32.77,-19.72),(32.66,-20.3),(32.51,-20.4),(32.24,-21.12)]
BOTSWANA = [(29.43,-22.09),(28.02,-22.83),(27.12,-23.57),(26.79,-24.24),(26.49,-24.62),(25.94,-24.7),(25.77,-25.17),(25.66,-25.49),(25.03,-25.72),(24.21,-25.67),(23.73,-25.39),(23.31,-25.27),(22.82,-25.5),(22.58,-25.98),(22.11,-26.28),(21.61,-26.73),(20.89,-26.83),(20.67,-26.48),(20.76,-25.87),(20.17,-24.92),(19.9,-24.77),(19.9,-21.85),(20.88,-21.81),(20.91,-18.25),(21.66,-18.22),(23.2,-17.87),(23.58,-18.28),(24.22,-17.89),(24.52,-17.89),(25.08,-17.66),(25.26,-17.74),(25.65,-18.54),(25.85,-18.71),(26.16,-19.29),(27.3,-20.39),(27.72,-20.5),(27.73,-20.85),(28.02,-21.49),(28.79,-21.64)]
NAMIBIA = [(19.9,-24.77),(19.89,-28.46),(19.0,-28.97),(18.46,-29.05),(17.84,-28.86),(17.39,-28.78),(17.22,-28.36),(16.82,-28.08),(16.34,-28.58),(15.6,-27.82),(15.21,-27.09),(14.99,-26.12),(14.74,-25.39),(14.41,-23.85),(14.39,-22.66),(14.26,-22.11),(13.87,-21.7),(13.35,-20.87),(12.83,-19.67),(12.61,-19.05),(11.79,-18.07),(11.73,-17.3),(12.22,-17.11),(12.81,-16.94),(13.46,-16.97),(14.06,-17.42),(14.21,-17.35),(18.26,-17.31),(18.96,-17.79),(21.38,-17.93),(23.21,-17.52),(24.03,-17.3),(24.68,-17.35),(25.08,-17.58),(25.08,-17.66),(24.52,-17.89),(24.22,-17.89),(23.58,-18.28),(23.2,-17.87),(21.66,-18.22),(20.91,-18.25),(20.88,-21.81),(19.9,-21.85)]
SOUTH_AFRICA = [(16.34,-28.58),(16.82,-28.08),(17.22,-28.36),(17.39,-28.78),(17.84,-28.86),(18.46,-29.05),(19.0,-28.97),(19.89,-28.46),(19.9,-24.77),(20.17,-24.92),(20.76,-25.87),(20.67,-26.48),(20.89,-26.83),(21.61,-26.73),(22.11,-26.28),(22.58,-25.98),(22.82,-25.5),(23.31,-25.27),(23.73,-25.39),(24.21,-25.67),(25.03,-25.72),(25.66,-25.49),(25.77,-25.17),(25.94,-24.7),(26.49,-24.62),(26.79,-24.24),(27.12,-23.57),(28.02,-22.83),(29.43,-22.09),(29.84,-22.1),(30.32,-22.27),(30.66,-22.15),(31.19,-22.25),(31.67,-23.66),(31.93,-24.37),(31.75,-25.48),(31.84,-25.84),(31.33,-25.66),(31.04,-25.73),(30.95,-26.02),(30.68,-26.4),(30.69,-26.74),(31.28,-27.29),(31.87,-27.18),(32.07,-26.73),(32.83,-26.74),(32.58,-27.47),(32.46,-28.3),(32.2,-28.75),(31.52,-29.26),(31.33,-29.4),(30.9,-29.91),(30.62,-30.42),(30.06,-31.14),(28.93,-32.17),(28.22,-32.77),(27.46,-33.23),(26.42,-33.61),(25.91,-33.67),(25.78,-33.94),(25.17,-33.8),(24.68,-33.99),(23.59,-33.79),(22.99,-33.92),(22.57,-33.86),(21.54,-34.26),(20.69,-34.42),(20.07,-34.8),(19.62,-34.82),(19.19,-34.46),(18.86,-34.44),(18.42,-33.9),(18.38,-34.14),(18.24,-33.87),(18.25,-33.28),(17.93,-32.61),(18.25,-32.43),(18.22,-31.66),(17.57,-30.73),(17.06,-29.88)]
LESOTHO = [(28.98,-28.96),(29.33,-29.26),(29.02,-29.74),(28.85,-30.07),(28.29,-30.23),(28.11,-30.55),(27.75,-30.65),(27.0,-29.88),(27.53,-29.24),(28.07,-28.85),(28.54,-28.65)]
ESWATINI = [(32.07,-26.73),(31.87,-27.18),(31.28,-27.29),(30.69,-26.74),(30.68,-26.4),(30.95,-26.02),(31.04,-25.73),(31.33,-25.66),(31.84,-25.84),(31.99,-26.29)]
MADAGASCAR = [(49.54,-12.47),(49.81,-12.9),(50.06,-13.56),(50.22,-14.76),(50.48,-15.23),(50.38,-15.71),(50.2,-16.0),(49.86,-15.41),(49.67,-15.71),(49.86,-16.45),(49.77,-16.88),(49.5,-17.11),(49.44,-17.95),(48.55,-20.5),(47.93,-22.39),(47.55,-23.78),(47.1,-24.94),(46.28,-25.18),(45.41,-25.6),(44.83,-25.35),(44.04,-25.0),(43.76,-24.46),(43.7,-23.57),(43.35,-22.78),(43.25,-22.06),(43.43,-21.34),(43.89,-21.16),(43.9,-20.83),(44.37,-20.07),(44.46,-19.44),(44.23,-18.96),(44.04,-18.33),(43.96,-17.41),(44.31,-16.85),(44.45,-16.22),(44.94,-16.18),(45.5,-15.97),(45.87,-15.79),(46.31,-15.78),(46.88,-15.21),(47.71,-14.59),(48.01,-14.09),(47.87,-13.66),(48.29,-13.78),(48.85,-13.09),(48.86,-12.49),(49.19,-12.04)]

# Total cases per country, estimated from the map colours
country_outlines = [MOROCCO, ALGERIA, TUNISIA, LIBYA, EGYPT, SUDAN, SOUTH_SUDAN, ERITREA, ETHIOPIA, DJIBOUTI, SOMALILAND, SOMALIA, KENYA, UGANDA, RWANDA, BURUNDI, TANZANIA, DR_CONGO, CENTRAL_AFRICAN_REP, CHAD, NIGER, MALI, MAURITANIA, SENEGAL, GAMBIA, GUINEA_BISSAU, GUINEA, SIERRA_LEONE, LIBERIA, IVORY_COAST, GHANA, TOGO, BENIN, BURKINA_FASO, NIGERIA, CAMEROON, EQUATORIAL_GUINEA, GABON, CONGO, ANGOLA, CABINDA, ZAMBIA, MALAWI, MOZAMBIQUE, ZIMBABWE, BOTSWANA, NAMIBIA, SOUTH_AFRICA, LESOTHO, ESWATINI, MADAGASCAR]
case_counts = [1430, 1760, 720, 25, 1790, 30, 4, 30, 85, 140, 5, 25, 230, 50, 105, 5, 32, 250, 8, 23, 530, 125, 6, 270, 4, 33, 220, 10, 15, 560, 480, 75, 35, 450, 320, 880, 20, 110, 60, 19, 19, 40, 8, 20, 9, 6, 16, 2000, 1, 9, 110]

island_lons = [43.3, 43.8, 44.3, 45.1, 46.3, 47.3, 55.5, 56.7, 57.6, 55.5, 63.4, 37.8, -12.3, -5.7, -14.4, 5.6, 39.4, 39.7]
island_lats = [-11.7, -12.2, -12.3, -12.8, -9.4, -11.6, -4.6, -10.4, -20.3, -21.1, -19.7, -46.7, -37.1, -16.0, -7.9, -1.4, -6.1, -5.2]
colorbar_ticks = [250, 500, 750, 1000, 1250, 1500, 1750, 2000]
TITLE = "Total COVID-19 Cases on the African Continent"
SOURCE = "Source: relataly.com"

W, H = 553, 439
sns.set_style("white")
plt.rcParams["font.family"] = ["DejaVu Sans"]
cmap = sns.color_palette("viridis", as_cmap=True)
norm = Normalize(vmin=1, vmax=2000)

fig = plt.figure(figsize=(W / 72, H / 72), dpi=72, facecolor="white")
ax = fig.add_axes([0, 0, 1, 1])
PX_LON, PX_LAT = 4.09, 4.15
ax.set_xlim(-17.5 - 167 / PX_LON, -17.5 + (W - 167) / PX_LON)
ax.set_ylim(37.3 - (H - 43) / PX_LAT, 37.3 + 43 / PX_LAT)
ax.axis("off")

for outline, cases in zip(country_outlines, case_counts):
    lons, lats = zip(*outline)
    ax.fill(lons, lats, facecolor=cmap(norm(cases)), edgecolor="0.72", linewidth=0.9, joinstyle="round")

sns.scatterplot(x=island_lons, y=island_lats, color="0.85", s=2.5, linewidth=0, ax=ax, legend=False)

ax.text((83 + 548) / 2 / W, 1 - 14 / H, TITLE, transform=ax.transAxes, ha="center", va="center", fontsize=20, color="black")
ax.text(132 / W, 1 - 400 / H, SOURCE, transform=ax.transAxes, ha="left", va="center", fontsize=8, color="black")

cax = fig.add_axes([131 / W, 1 - 347 / H, 12 / W, 256 / H])
cbar = fig.colorbar(ScalarMappable(norm=norm, cmap=cmap), cax=cax, ticks=colorbar_ticks)
cbar.ax.tick_params(labelsize=8, length=3.5, width=0.8, color="0.3", labelcolor="0.1", pad=2)
cbar.outline.set_edgecolor("0.35")
cbar.outline.set_linewidth(0.8)

fig.savefig("out.png", dpi=72)
